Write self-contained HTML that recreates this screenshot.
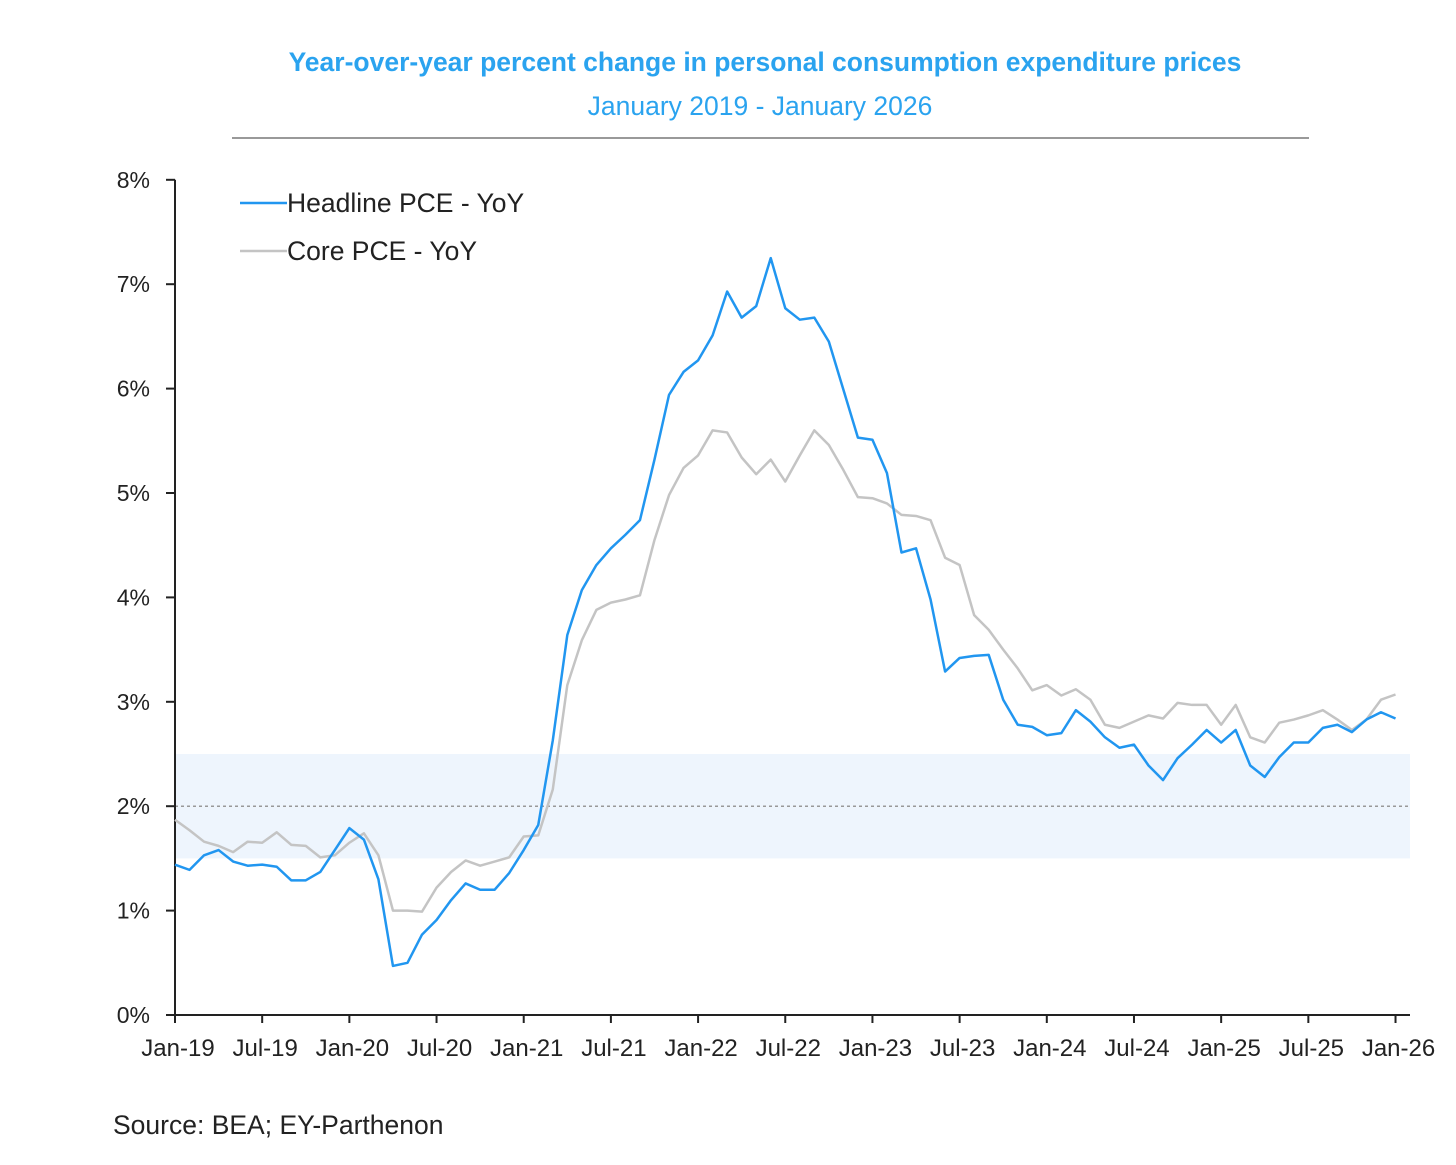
<!DOCTYPE html>
<html><head><meta charset="utf-8"><style>
body{margin:0;background:#fff;width:1456px;height:1160px;overflow:hidden;font-family:"Liberation Sans",sans-serif;}
</style></head><body>
<svg id="chart" width="1456" height="1160" xmlns="http://www.w3.org/2000/svg">
<text x="765" y="71" text-anchor="middle" font-size="26.5" font-weight="bold" fill="#2aa3ef">Year-over-year percent change in personal consumption expenditure prices</text>
<text x="760" y="115" text-anchor="middle" font-size="26.5" fill="#2aa3ef">January 2019 - January 2026</text>
<line x1="232" y1="138" x2="1309" y2="138" stroke="#999" stroke-width="2"/>
<text x="113" y="1134" font-size="26.5" fill="#222">Source: BEA; EY-Parthenon</text>
<g id="plot"></g>
</svg>
<script>
const yTicks=[0,1,2,3,4,5,6,7,8];
const xLabels=["Jan-19","Jul-19","Jan-20","Jul-20","Jan-21","Jul-21","Jan-22","Jul-22","Jan-23","Jul-23","Jan-24","Jul-24","Jan-25","Jul-25","Jan-26"];
const headline=[1.44,1.39,1.53,1.58,1.47,1.43,1.44,1.42,1.29,1.29,1.37,1.58,1.79,1.68,1.3,0.47,0.5,0.77,0.91,1.1,1.26,1.2,1.2,1.36,1.58,1.82,2.63,3.64,4.07,4.31,4.47,4.6,4.74,5.32,5.94,6.16,6.27,6.51,6.93,6.68,6.79,7.25,6.77,6.66,6.68,6.45,5.99,5.53,5.51,5.19,4.43,4.47,3.98,3.29,3.42,3.44,3.45,3.02,2.78,2.76,2.68,2.7,2.92,2.81,2.66,2.56,2.59,2.39,2.25,2.46,2.59,2.73,2.61,2.73,2.39,2.28,2.47,2.61,2.61,2.75,2.78,2.71,2.83,2.9,2.84];
const core=[1.87,1.77,1.66,1.62,1.56,1.66,1.65,1.75,1.63,1.62,1.51,1.53,1.65,1.74,1.53,1.0,1.0,0.99,1.22,1.37,1.48,1.43,1.47,1.51,1.71,1.72,2.16,3.16,3.59,3.88,3.95,3.98,4.02,4.55,4.98,5.24,5.36,5.6,5.58,5.34,5.18,5.32,5.11,5.36,5.6,5.46,5.22,4.96,4.95,4.9,4.79,4.78,4.74,4.38,4.31,3.83,3.69,3.5,3.32,3.11,3.16,3.06,3.12,3.02,2.78,2.75,2.81,2.87,2.84,2.99,2.97,2.97,2.78,2.97,2.66,2.61,2.8,2.83,2.87,2.92,2.83,2.73,2.83,3.02,3.07];
const band=[1.5,2.5], target=2;
const X0=175,MPX=14.53,Y0=1015,YPX=104.4;
const xs=m=>X0+m*MPX, ys=v=>Y0-v*YPX;
const g=document.getElementById('plot');const NS="http://www.w3.org/2000/svg";
function mk(t,a){const e=document.createElementNS(NS,t);for(const k in a)e.setAttribute(k,a[k]);g.appendChild(e);return e;}
let e=mk('rect',{x:175,y:ys(band[1]),width:1235,height:ys(band[0])-ys(band[1]),fill:'#eef5fd'});


e=mk('line',{x1:175,x2:1410,y1:ys(target),y2:ys(target),stroke:'#999','stroke-width':1.5,'stroke-dasharray':'3,3'});


e=mk('line',{x1:175,x2:175,y1:ys(8),y2:Y0,stroke:'#222','stroke-width':2});


e=mk('line',{x1:175,x2:1410,y1:Y0,y2:Y0,stroke:'#222','stroke-width':2});


yTicks.forEach(v=>{mk('line',{x1:166,x2:175,y1:ys(v),y2:ys(v),stroke:'#222','stroke-width':2});
 const t=mk('text',{x:150,y:ys(v)+8,'text-anchor':'end','font-size':23,fill:'#222'});t.textContent=v+'%';
 
 });
xLabels.forEach((l,i)=>{const x=xs(i*6);mk('line',{x1:x,x2:x,y1:Y0,y2:Y0+8,stroke:'#222','stroke-width':2});
 const t=mk('text',{x:x+3,y:1056,'text-anchor':'middle','font-size':24,fill:'#222'});t.textContent=l;
 
 });
function line(d,c,w,n){const p=mk('polyline',{points:d.map((v,i)=>xs(i)+','+ys(v)).join(' '),fill:'none',stroke:c,'stroke-width':w,'stroke-linejoin':'round'});
 
 }
line(core,'#c4c4c4',2.5,'core-pce-line');
line(headline,'#2196f0',2.5,'headline-pce-line');
[['Headline PCE - YoY','#2196f0',203],['Core PCE - YoY','#c4c4c4',251]].forEach(([l,c,y])=>{
 mk('line',{x1:240,x2:287,y1:y,y2:y,stroke:c,'stroke-width':2.5});
 const t=mk('text',{x:287,y:y+9,'font-size':26.5,fill:'#222'});t.textContent=l;
 
 });
</script>
</body></html>
